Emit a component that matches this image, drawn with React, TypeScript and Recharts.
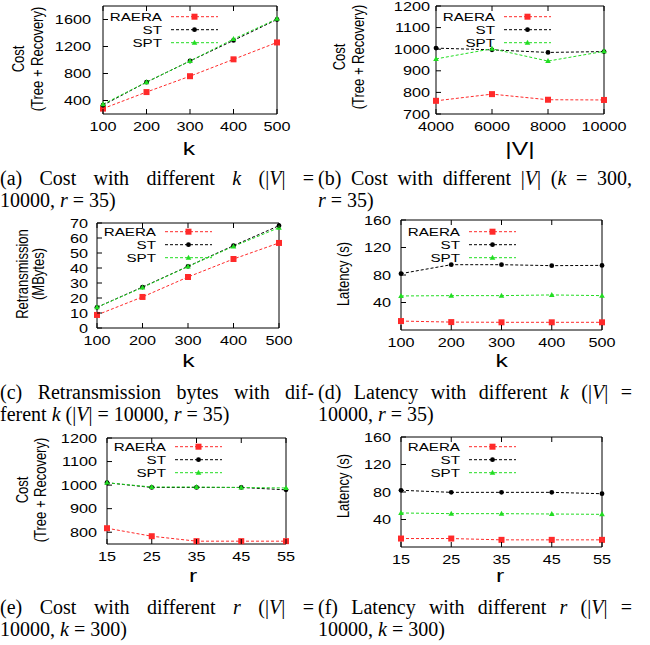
import React from 'react';
import { LineChart, Line, XAxis, YAxis, Legend } from 'recharts';

// x values for the three kinds of sweep
const kValues = [100, 200, 300, 400, 500];
const vValues = [4000, 6000, 8000, 10000];
const rValues = [15, 25, 35, 45, 55];

// (a) cost vs k
const costKRaera = [280, 525, 760, 1010, 1260];
const costKSt = [330, 672, 985, 1290, 1600];
const costKSpt = [345, 672, 985, 1310, 1610];
const costKTicks = [400, 800, 1200, 1600];

// (b) cost vs |V|
const costVRaera = [761, 792, 766, 765];
const costVSt = [1005, 997, 985, 989];
const costVSpt = [955, 1002, 945, 990];
const costVTicks = [700, 800, 900, 1000, 1100, 1200];

// (c) retransmission vs k
const retxRaera = [8.7, 20.7, 34, 46, 56.7];
const retxSt = [13.8, 27.3, 41.1, 54.9, 68.2];
const retxSpt = [13.8, 27, 41, 54.4, 66.9];
const retxTicks = [0, 10, 20, 30, 40, 50, 60, 70];

// (d) latency vs k
const latKRaera = [13, 11.5, 11.2, 11.2, 11.2];
const latKSt = [82, 95, 95, 93.6, 94];
const latKSpt = [49.5, 50, 50, 51, 50];
const latencyTicks = [40, 80, 120, 160];

// (e) cost vs r
const costRRaera = [817, 783, 762, 762, 762];
const costRSt = [1010, 990, 990, 990, 980];
const costRSpt = [1010, 992, 992, 990, 988];
const costRTicks = [800, 900, 1000, 1100, 1200];

// (f) latency vs r
const latRRaera = [12.3, 12.3, 10.4, 10.4, 10.4];
const latRSt = [82.5, 79.5, 79.5, 79.5, 77.5];
const latRSpt = [49.5, 48.5, 48.5, 48, 47.5];

const SERIES = [
  { key: 'RAERA', color: '#ff2a2a', shape: 'square' },
  { key: 'ST', color: '#000000', shape: 'circle' },
  { key: 'SPT', color: '#22dd22', shape: 'triangle' },
];

const rowsOf = (xs: number[], a: number[], b: number[], c: number[]) =>
  xs.map((x, i) => ({ x, RAERA: a[i], ST: b[i], SPT: c[i] }));

const SANS = '"Liberation Sans", Arial, Helvetica, sans-serif';
const SERIF = '"Liberation Serif", "Times New Roman", serif';
const STRETCH = 1.3;

function marker(shape: string, cx: number, cy: number, color: string, key?: string) {
  if (shape === 'square') return <rect key={key} x={cx - 3} y={cy - 3} width={6} height={6} fill={color} />;
  if (shape === 'circle') return <circle key={key} cx={cx} cy={cy} r={2.4} fill={color} />;
  return <polygon key={key} points={`${cx},${cy - 3} ${cx - 2.8},${cy + 2} ${cx + 2.8},${cy + 2}`} fill={color} />;
}

function BottomTick({ x, y, payload }: any) {
  return (
    <g>
      <line x1={x} x2={x} y1={y} y2={y - 5} stroke="#000" />
      <text transform={`translate(${x},${y + 17}) scale(${STRETCH},1)`} textAnchor="middle" fill="#000" fontFamily={SANS} fontSize={12.5}>
        {payload.value}
      </text>
    </g>
  );
}

function TopTick({ x, y }: any) {
  return <line x1={x} x2={x} y1={y} y2={y + 5} stroke="#000" />;
}

function LeftTick({ x, y, payload, gap }: any) {
  return (
    <g>
      <line x1={x} x2={x + 5} y1={y} y2={y} stroke="#000" />
      <text transform={`translate(${x - gap},${y + 4.5}) scale(${STRETCH},1)`} textAnchor="end" fill="#000" fontFamily={SANS} fontSize={12.5}>
        {payload.value}
      </text>
    </g>
  );
}

function RightTick({ x, y }: any) {
  return <line x1={x} x2={x - 5} y1={y} y2={y} stroke="#000" />;
}

// legend rows follow the plotting order (RAERA, ST, SPT), not the alphabetical one
function LegendBox({ payload, top }: any) {
  const entries = SERIES.map((s) => ({ s, entry: (payload || []).find((e: any) => e.dataKey === s.key) }))
    .filter((q) => q.entry);
  return (
    <svg width={130} height={50} style={{ display: 'block', overflow: 'visible' }}>
      {entries.map(({ s, entry }, i) => {
        const cy = top + i * 13;
        return (
          <g key={s.key}>
            <text transform={`translate(59,${cy + 4.2}) scale(${STRETCH},1)`} textAnchor="end" fill="#000" fontFamily={SANS} fontSize={11.7}>
              {entry.value}
            </text>
            <line x1={68} x2={115} y1={cy} y2={cy} stroke={s.color} strokeDasharray="3 2" />
            {marker(s.shape, 91.5, cy, s.color)}
          </g>
        );
      })}
    </svg>
  );
}

type Box = { left: number; top: number; right: number; bottom: number };

function Panel({ box, rows, xDomain, xTicks, yDomain, yTicks, yGap, legendTop }: any) {
  const b = box as Box;
  const w = b.right - b.left;
  const h = b.bottom - b.top;
  const L = 60, R = 30, T = 10, B = 30;
  return (
    <div style={{ position: 'absolute', left: b.left - L, top: b.top - T }}>
      <LineChart width={w + L + R} height={h + T + B} data={rows} margin={{ top: 0, right: 0, bottom: 0, left: 0 }}>
        <XAxis xAxisId="b" dataKey="x" type="number" domain={xDomain} ticks={xTicks} interval={0} height={B}
          tickSize={0} tickMargin={0} tickLine={false} axisLine={{ stroke: '#000' }} tick={<BottomTick />} />
        <XAxis xAxisId="t" orientation="top" dataKey="x" type="number" domain={xDomain} ticks={xTicks} interval={0} height={T}
          tickSize={0} tickMargin={0} tickLine={false} axisLine={{ stroke: '#000' }} tick={<TopTick />} />
        <YAxis yAxisId="l" type="number" domain={yDomain} ticks={yTicks} interval={0} width={L}
          tickSize={0} tickMargin={0} tickLine={false} axisLine={{ stroke: '#000' }}
          tick={(p: any) => <LeftTick {...p} gap={yGap} />} />
        <YAxis yAxisId="r" orientation="right" type="number" domain={yDomain} ticks={yTicks} interval={0} width={R}
          tickSize={0} tickMargin={0} tickLine={false} axisLine={{ stroke: '#000' }} tick={<RightTick />} />
        <Legend layout="vertical" align="center" verticalAlign="middle"
          wrapperStyle={{ left: L, top: T, width: 130, height: 50 }}
          content={(p: any) => <LegendBox payload={p.payload} top={legendTop} />} />
        {SERIES.map((s) => (
          <Line key={s.key} xAxisId="b" yAxisId="l" type="linear" dataKey={s.key} name={s.key}
            stroke={s.color} strokeWidth={1} strokeDasharray="3 2" activeDot={false} isAnimationActive={false}
            dot={(p: any) => marker(s.shape, p.cx, p.cy, s.color, `${s.key}-${p.index}`)} />
        ))}
      </LineChart>
    </div>
  );
}

function Caption({ left, top, first, second }: any) {
  return (
    <div style={{ position: 'absolute', left, top, width: 314, fontFamily: SERIF, fontSize: 20, lineHeight: '22px', color: '#000' }}>
      <div style={{ textAlign: 'justify', textAlignLast: 'justify' }}>{first}</div>
      <div>{second}</div>
    </div>
  );
}

function YTitle({ x, y, text }: any) {
  return (
    <text transform={`translate(${x},${y}) scale(${STRETCH},1) rotate(-90)`} textAnchor="middle" dy="0.36em"
      fontFamily={SANS} fontSize={13} fill="#000">
      {text}
    </text>
  );
}

function XTitle({ x, y, text }: any) {
  return (
    <text transform={`translate(${x},${y}) scale(${STRETCH},1)`} textAnchor="middle" fontFamily={SANS} fontSize={19} fill="#000">
      {text}
    </text>
  );
}

export default function App() {
  return (
    <div style={{ position: 'absolute', left: 0, top: 0, width: 650, height: 645, background: '#fff', overflow: 'hidden' }}>
      <Panel box={{ left: 103, top: 6, right: 277, bottom: 114 }} rows={rowsOf(kValues, costKRaera, costKSt, costKSpt)}
        xDomain={[100, 500]} xTicks={kValues} yDomain={[200, 1800]} yTicks={costKTicks} yGap={12} legendTop={10.7} />
      <Panel box={{ left: 436, top: 6, right: 604, bottom: 114 }} rows={rowsOf(vValues, costVRaera, costVSt, costVSpt)}
        xDomain={[4000, 10000]} xTicks={vValues} yDomain={[700, 1200]} yTicks={costVTicks} yGap={6} legendTop={10.7} />
      <Panel box={{ left: 97, top: 223, right: 279, bottom: 328 }} rows={rowsOf(kValues, retxRaera, retxSt, retxSpt)}
        xDomain={[100, 500]} xTicks={kValues} yDomain={[0, 70]} yTicks={retxTicks} yGap={9} legendTop={8.7} />
      <Panel box={{ left: 401, top: 220, right: 602, bottom: 330 }} rows={rowsOf(kValues, latKRaera, latKSt, latKSpt)}
        xDomain={[100, 500]} xTicks={kValues} yDomain={[0, 160]} yTicks={latencyTicks} yGap={10} legendTop={11.7} />
      <Panel box={{ left: 107, top: 438, right: 286, bottom: 544 }} rows={rowsOf(rValues, costRRaera, costRSt, costRSpt)}
        xDomain={[15, 55]} xTicks={rValues} yDomain={[750, 1200]} yTicks={costRTicks} yGap={10} legendTop={8.7} />
      <Panel box={{ left: 401, top: 437, right: 602, bottom: 547 }} rows={rowsOf(rValues, latRRaera, latRSt, latRSpt)}
        xDomain={[15, 55]} xTicks={rValues} yDomain={[0, 160]} yTicks={latencyTicks} yGap={10} legendTop={9.7} />

      <svg width={650} height={645} style={{ position: 'absolute', left: 0, top: 0, pointerEvents: 'none' }}>
        <YTitle x={18} y={59} text="Cost" />
        <YTitle x={37} y={59} text="(Tree + Recovery)" />
        <XTitle x={189} y={155} text="k" />
        <YTitle x={338.5} y={57} text="Cost" />
        <YTitle x={358.3} y={57} text="(Tree + Recovery)" />
        <XTitle x={520} y={155} text="|V|" />
        <YTitle x={21.7} y={274} text="Retransmission" />
        <YTitle x={38.3} y={274} text="(MBytes)" />
        <XTitle x={188.3} y={366.7} text="k" />
        <YTitle x={343.3} y={274} text="Latency (s)" />
        <XTitle x={501.7} y={366.7} text="k" />
        <YTitle x={21.7} y={490} text="Cost" />
        <YTitle x={40} y={490} text="(Tree + Recovery)" />
        <XTitle x={193} y={581.7} text="r" />
        <YTitle x={343.3} y={486} text="Latency (s)" />
        <XTitle x={500} y={581.7} text="r" />
      </svg>

      <Caption left={0} top={167}
        first={<>(a) Cost with different <i>k</i> (|<i>V</i>| =</>}
        second={<>10000, <i>r</i> = 35)</>} />
      <Caption left={318} top={167}
        first={<>(b) Cost with different |<i>V</i>| (<i>k</i> = 300,</>}
        second={<><i>r</i> = 35)</>} />
      <Caption left={0} top={381}
        first={<>(c) Retransmission bytes with dif-</>}
        second={<>ferent <i>k</i> (|<i>V</i>| = 10000, <i>r</i> = 35)</>} />
      <Caption left={318} top={381}
        first={<>(d) Latency with different <i>k</i> (|<i>V</i>| =</>}
        second={<>10000, <i>r</i> = 35)</>} />
      <Caption left={0} top={596}
        first={<>(e) Cost with different <i>r</i> (|<i>V</i>| =</>}
        second={<>10000, <i>k</i> = 300)</>} />
      <Caption left={318} top={596}
        first={<>(f) Latency with different <i>r</i> (|<i>V</i>| =</>}
        second={<>10000, <i>k</i> = 300)</>} />
    </div>
  );
}
